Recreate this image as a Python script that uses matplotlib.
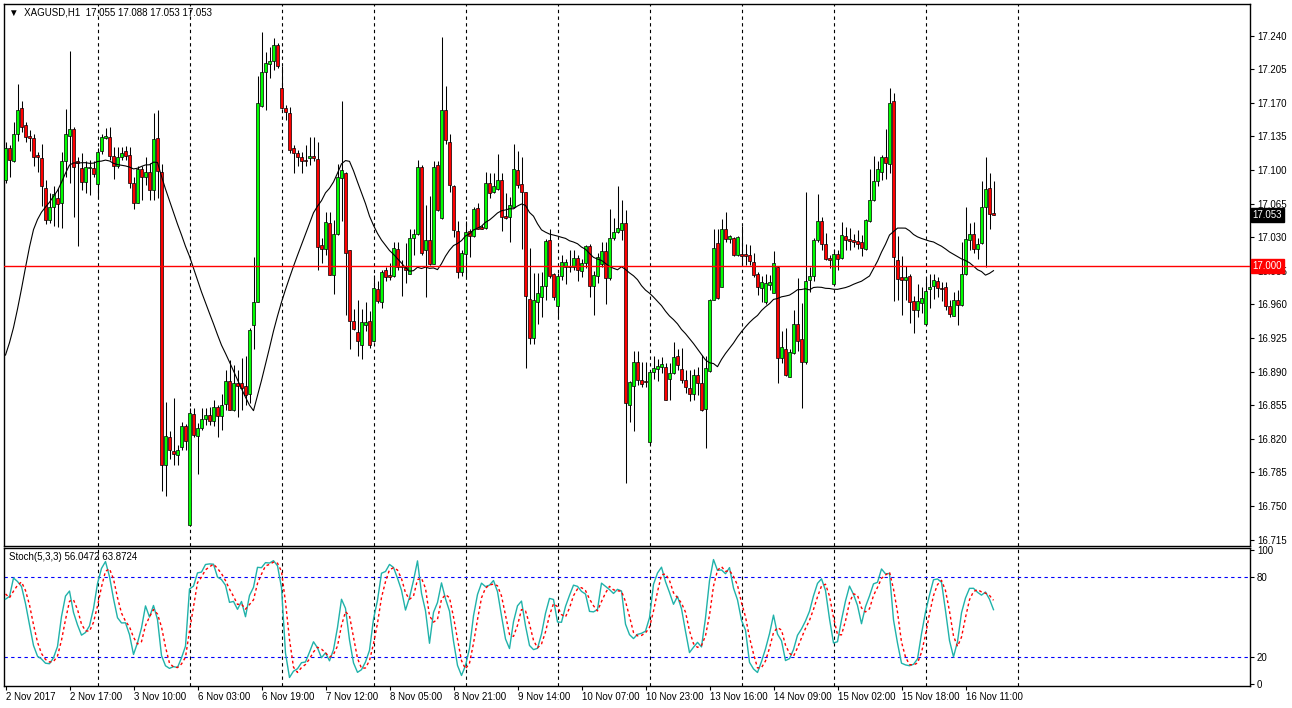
import numpy as np
import pandas as pd
import matplotlib
matplotlib.use("Agg")
import matplotlib.pyplot as plt
import matplotlib.transforms as mtransforms

plt.rcParams['font.family'] = ['Liberation Sans', 'DejaVu Sans']

# XAGUSD H1 bars, 2 Nov 2017 00:00 onwards
opens = [17.090, 17.123, 17.109, 17.137, 17.165, 17.147, 17.135, 17.133, 17.116, 17.112,
         17.081, 17.048, 17.061, 17.071, 17.066, 17.109, 17.135, 17.143, 17.109, 17.102,
         17.087, 17.102, 17.102, 17.085, 17.120, 17.133, 17.134, 17.115, 17.104, 17.114,
         17.120, 17.116, 17.086, 17.066, 17.101, 17.093, 17.098, 17.079, 17.133, 17.098,
         16.793, 16.822, 16.807, 16.803, 16.811, 16.833, 16.730, 16.846, 16.823, 16.831,
         16.841, 16.845, 16.839, 16.853, 16.844, 16.856, 16.880, 16.850, 16.878, 16.878,
         16.875, 16.867, 16.938, 16.962, 17.167, 17.202, 17.210, 17.214, 17.230, 17.185,
         17.165, 17.159, 17.123, 17.118, 17.114, 17.110, 17.112, 17.115, 17.111, 17.022,
         17.018, 17.045, 16.991, 17.033, 17.092, 17.097, 17.017, 16.943, 16.931, 16.918,
         16.938, 16.943, 16.922, 16.976, 16.962, 16.996, 16.991, 16.990, 17.018, 17.000,
         16.999, 16.992, 17.029, 17.033, 17.103, 17.017, 17.027, 17.002, 17.105, 17.050,
         17.162, 17.129, 17.083, 17.036, 16.994, 17.012, 17.036, 17.031, 17.060, 17.041,
         17.040, 17.086, 17.077, 17.080, 17.090, 17.052, 17.051, 17.061, 17.100, 17.085,
         17.077, 16.966, 16.925, 16.962, 16.968, 16.979, 17.027, 16.992, 16.958, 16.990,
         16.999, 17.000, 16.999, 17.008, 16.995, 17.003, 17.021, 16.979, 16.990, 17.002,
         17.016, 16.987, 17.029, 17.035, 17.037, 17.045, 16.855, 16.875, 16.900, 16.881,
         16.880, 16.817, 16.890, 16.893, 16.895, 16.895, 16.882, 16.888, 16.906, 16.893,
         16.881, 16.873, 16.867, 16.886, 16.878, 16.851, 16.891, 16.965, 17.024, 16.978,
         17.038, 17.028, 17.029, 17.011, 17.012, 17.012, 17.011, 17.004, 16.992, 16.977,
         16.962, 16.980, 16.972, 16.999, 16.904, 16.914, 16.884, 16.909, 16.940, 16.924,
         16.900, 16.985, 16.990, 17.027, 17.047, 17.023, 17.008, 16.981, 17.012, 17.008,
         17.031, 17.028, 17.027, 17.026, 17.025, 17.018, 17.047, 17.069, 17.089, 17.098,
         17.113, 17.106, 17.172, 17.006, 16.988, 16.985, 16.990, 16.964, 16.954, 16.961,
         16.940, 16.976, 16.979, 16.984, 16.977, 16.978, 16.958, 16.948, 16.965, 16.959,
         16.992, 17.027, 17.033, 17.018, 17.024, 17.061, 17.081, 17.055]
highs = [17.129, 17.126, 17.150, 17.190, 17.172, 17.150, 17.142, 17.138, 17.119, 17.127,
         17.090, 17.076, 17.083, 17.081, 17.119, 17.164, 17.224, 17.145, 17.114, 17.118,
         17.109, 17.110, 17.109, 17.123, 17.137, 17.144, 17.145, 17.124, 17.124, 17.124,
         17.125, 17.124, 17.093, 17.104, 17.104, 17.114, 17.107, 17.159, 17.162, 17.106,
         16.858, 16.828, 16.862, 16.814, 16.837, 16.835, 16.852, 16.852, 16.836, 16.852,
         16.852, 16.853, 16.860, 16.855, 16.867, 16.892, 16.902, 16.897, 16.892, 16.904,
         16.906, 16.935, 17.009, 17.198, 17.244, 17.223, 17.228, 17.237, 17.232, 17.208,
         17.168, 17.166, 17.126, 17.121, 17.119, 17.126, 17.134, 17.134, 17.129, 17.029,
         17.056, 17.056, 17.048, 17.106, 17.172, 17.098, 17.017, 16.955, 16.965, 16.955,
         16.962, 16.953, 16.991, 16.984, 16.996, 16.999, 17.003, 17.025, 17.025, 17.006,
         17.024, 17.038, 17.039, 17.110, 17.105, 17.064, 17.073, 17.109, 17.109, 17.239,
         17.188, 17.138, 17.084, 17.047, 17.017, 17.047, 17.038, 17.061, 17.066, 17.043,
         17.098, 17.097, 17.097, 17.117, 17.097, 17.076, 17.072, 17.127, 17.120, 17.113,
         17.077, 17.019, 16.993, 16.993, 16.994, 17.028, 17.038, 16.993, 16.993, 17.011,
         17.007, 17.017, 17.017, 17.011, 17.007, 17.022, 17.023, 16.995, 17.014, 17.025,
         17.025, 17.059, 17.050, 17.083, 17.069, 17.058, 16.880, 16.911, 16.911, 16.900,
         16.900, 16.892, 16.906, 16.903, 16.905, 16.899, 16.899, 16.921, 16.914, 16.915,
         16.892, 16.892, 16.893, 16.895, 16.907, 16.906, 16.966, 17.038, 17.039, 17.049,
         17.056, 17.032, 17.030, 17.031, 17.042, 17.023, 17.022, 17.013, 16.994, 16.990,
         16.992, 16.991, 17.016, 17.000, 16.932, 16.935, 16.914, 16.954, 16.987, 16.961,
         17.077, 16.999, 17.029, 17.075, 17.051, 17.034, 17.011, 17.018, 17.017, 17.046,
         17.041, 17.040, 17.033, 17.037, 17.032, 17.049, 17.101, 17.115, 17.109, 17.116,
         17.143, 17.185, 17.180, 17.031, 17.010, 17.000, 16.992, 16.969, 16.981, 16.978,
         16.987, 16.992, 16.992, 16.988, 16.983, 16.983, 16.965, 16.973, 16.975, 17.025,
         17.061, 17.045, 17.046, 17.029, 17.088, 17.113, 17.097, 17.088]
lows = [17.086, 17.093, 17.108, 17.130, 17.140, 17.129, 17.120, 17.104, 17.098, 17.062,
        17.044, 17.045, 17.042, 17.041, 17.040, 17.093, 17.086, 17.051, 17.021, 17.079,
        17.076, 17.074, 17.093, 17.071, 17.117, 17.132, 17.110, 17.091, 17.102, 17.110,
        17.110, 17.081, 17.059, 17.066, 17.069, 17.084, 17.069, 17.069, 17.071, 16.766,
        16.760, 16.799, 16.793, 16.793, 16.808, 16.808, 16.729, 16.822, 16.783, 16.829,
        16.834, 16.834, 16.833, 16.822, 16.829, 16.850, 16.850, 16.849, 16.843, 16.850,
        16.855, 16.857, 16.913, 16.962, 17.166, 17.163, 17.196, 17.204, 17.206, 17.164,
        17.152, 17.118, 17.097, 17.104, 17.097, 17.104, 17.105, 17.109, 16.996, 17.003,
        17.011, 16.991, 16.971, 17.032, 17.047, 16.949, 16.913, 16.933, 16.906, 16.903,
        16.932, 16.915, 16.921, 16.961, 16.956, 16.984, 16.985, 16.989, 16.996, 16.969,
        16.982, 16.992, 17.011, 17.032, 17.011, 16.968, 17.001, 17.002, 17.057, 17.049,
        17.127, 17.077, 17.030, 16.987, 16.990, 16.989, 17.009, 17.030, 17.038, 17.038,
        17.039, 17.071, 17.076, 17.079, 17.036, 17.049, 17.025, 17.060, 17.081, 17.018,
        16.894, 16.919, 16.919, 16.940, 16.947, 16.965, 16.987, 16.965, 16.946, 16.985,
        16.981, 16.994, 16.996, 16.984, 16.989, 16.998, 16.968, 16.949, 16.982, 16.999,
        16.960, 16.985, 17.027, 17.034, 17.027, 16.774, 16.837, 16.828, 16.876, 16.874,
        16.874, 16.815, 16.882, 16.880, 16.889, 16.860, 16.860, 16.887, 16.892, 16.878,
        16.868, 16.859, 16.860, 16.866, 16.849, 16.810, 16.890, 16.965, 16.966, 16.978,
        17.025, 17.024, 17.010, 17.010, 17.001, 17.001, 17.001, 16.989, 16.970, 16.962,
        16.960, 16.975, 16.972, 16.878, 16.899, 16.885, 16.884, 16.908, 16.911, 16.852,
        16.898, 16.973, 16.984, 17.025, 17.017, 17.006, 16.998, 16.980, 16.996, 17.007,
        17.017, 17.017, 17.020, 17.018, 17.010, 17.017, 17.046, 17.068, 17.083, 17.090,
        17.091, 17.097, 16.963, 16.965, 16.949, 16.965, 16.941, 16.930, 16.947, 16.951,
        16.939, 16.956, 16.966, 16.968, 16.963, 16.954, 16.947, 16.948, 16.939, 16.958,
        16.991, 17.017, 17.013, 17.007, 17.023, 16.999, 17.038, 17.053]
closes = [17.123, 17.110, 17.137, 17.163, 17.145, 17.134, 17.133, 17.114, 17.113, 17.083,
          17.048, 17.061, 17.075, 17.065, 17.109, 17.137, 17.143, 17.103, 17.107, 17.087,
          17.103, 17.103, 17.096, 17.119, 17.134, 17.135, 17.115, 17.104, 17.114, 17.118,
          17.115, 17.086, 17.066, 17.101, 17.093, 17.098, 17.079, 17.132, 17.099, 16.793,
          16.823, 16.808, 16.804, 16.808, 16.833, 16.818, 16.847, 16.824, 16.831, 16.841,
          16.845, 16.839, 16.853, 16.844, 16.855, 16.880, 16.850, 16.878, 16.875, 16.873,
          16.866, 16.933, 16.962, 17.170, 17.202, 17.211, 17.214, 17.230, 17.208, 17.165,
          17.160, 17.121, 17.118, 17.114, 17.109, 17.109, 17.115, 17.112, 17.020, 17.018,
          17.046, 16.991, 17.033, 17.093, 17.100, 17.014, 16.943, 16.934, 16.922, 16.942,
          16.942, 16.918, 16.977, 16.963, 16.994, 16.989, 16.989, 17.019, 16.999, 16.999,
          16.996, 17.029, 17.033, 17.103, 17.014, 17.027, 17.002, 17.103, 17.058, 17.162,
          17.131, 17.084, 17.037, 16.994, 17.014, 17.035, 17.031, 17.059, 17.039, 17.039,
          17.086, 17.076, 17.083, 17.090, 17.051, 17.050, 17.063, 17.101, 17.084, 17.077,
          16.969, 16.925, 16.965, 16.972, 16.979, 17.026, 16.990, 16.968, 16.990, 17.004,
          17.004, 16.999, 17.008, 16.996, 17.003, 17.021, 16.979, 16.991, 17.009, 17.016,
          16.987, 17.029, 17.035, 17.040, 17.045, 16.857, 16.879, 16.900, 16.881, 16.877,
          16.879, 16.890, 16.894, 16.896, 16.898, 16.860, 16.888, 16.905, 16.897, 16.881,
          16.874, 16.867, 16.886, 16.878, 16.850, 16.894, 16.965, 17.019, 16.967, 17.038,
          17.028, 17.031, 17.011, 17.030, 17.010, 17.010, 17.005, 16.991, 16.978, 16.983,
          16.982, 16.983, 17.003, 16.904, 16.916, 16.886, 16.910, 16.940, 16.922, 16.900,
          16.984, 16.990, 17.027, 17.047, 17.023, 17.007, 17.006, 17.012, 17.007, 17.032,
          17.027, 17.026, 17.025, 17.023, 17.019, 17.048, 17.069, 17.089, 17.101, 17.113,
          17.107, 17.170, 17.009, 16.986, 16.985, 16.988, 16.962, 16.954, 16.963, 16.967,
          16.974, 16.978, 16.985, 16.977, 16.976, 16.958, 16.950, 16.965, 16.959, 16.992,
          17.028, 17.033, 17.018, 17.023, 17.061, 17.080, 17.054, 17.053]
# closes of the 23 hours before the first visible bar (moving average warm-up)
pre_close = [16.80, 16.76, 16.70, 16.64, 16.60, 16.62, 16.68, 16.86, 16.90, 16.92,
             16.94, 16.93, 16.92, 16.90, 16.91, 16.94, 17.05, 17.11, 17.08, 17.10,
             17.12, 17.09, 17.08]
# a few hours before the first bar (stochastic warm-up)
pre_high = [17.10, 17.13, 17.12, 17.14]
pre_low = [17.03, 17.05, 17.06, 17.07]
pre_last = [17.08, 17.12, 17.09, 17.08]

date_labels = ["2 Nov 2017", "2 Nov 17:00", "3 Nov 10:00", "6 Nov 03:00", "6 Nov 19:00",
               "7 Nov 12:00", "8 Nov 05:00", "8 Nov 21:00", "9 Nov 14:00", "10 Nov 07:00",
               "10 Nov 23:00", "13 Nov 16:00", "14 Nov 09:00", "15 Nov 02:00",
               "15 Nov 18:00", "16 Nov 11:00"]
price_ticks = [16.715, 16.750, 16.785, 16.820, 16.855, 16.890, 16.925, 16.960, 16.995,
               17.030, 17.065, 17.100, 17.135, 17.170, 17.205, 17.240]
stoch_ticks = [0, 20, 80, 100]
level_price = 17.000
last_price = 17.053
stoch_text = "Stoch(5,3,3) 56.0472 63.8724"
title_text = "XAGUSD,H1  17.055 17.088 17.053 17.053"

o = np.array(opens)
h = np.array(highs)
l = np.array(lows)
c = np.array(closes)
x = np.arange(len(c))

# indicators: 24-period SMA and Stoch(5,3,3)
ma = pd.Series(pre_close + closes).rolling(24).mean().to_numpy()[len(pre_close):]
n_pre = len(pre_high)
hs = pd.Series(pre_high + highs)
ls = pd.Series(pre_low + lows)
cs = pd.Series(pre_last + closes)
ll = ls.rolling(5, min_periods=1).min()
hh = hs.rolling(5, min_periods=1).max()
k_main = 100 * (cs - ll).rolling(3, min_periods=1).sum() / (hh - ll).rolling(3, min_periods=1).sum()
k_sig = k_main.rolling(3, min_periods=1).mean()
k_main = k_main.to_numpy()[n_pre:]
k_sig = k_sig.to_numpy()[n_pre:]

W, H = 1292, 708
fig = plt.figure(figsize=(W / 100, H / 100), dpi=100)
fig.patch.set_facecolor("white")
ax = fig.add_axes([4 / W, 1 - 546 / H, 1246 / W, 542 / H])
ax2 = fig.add_axes([4 / W, 1 - 686 / H, 1246 / W, 138 / H])

xlim = (-0.375, 311.125)
for a in (ax, ax2):
    a.set_xlim(*xlim)
    for s in a.spines.values():
        s.set_linewidth(1.0)
        s.set_color("black")
    # day separators
    for k in range(1, 12):
        a.axvline(23 * k, color="black", lw=0.8, ls=(0, (3, 3)), zorder=1)

ax.set_ylim(16.7083, 17.2729)
ax2.set_ylim(-1.7, 101.8)

# candles
up = c >= o
ax.vlines(x, l, h, color="black", lw=0.75, zorder=2)
body_lo = np.minimum(o, c)
body_h = np.maximum(np.abs(c - o), 0.0006)
ax.bar(x[up], body_h[up], 0.7, bottom=body_lo[up], color="#00ff00",
       edgecolor="black", linewidth=0.5, zorder=3)
ax.bar(x[~up], body_h[~up], 0.7, bottom=body_lo[~up], color="#ff0000",
       edgecolor="black", linewidth=0.5, zorder=3)

ax.plot(x, ma, color="black", lw=0.8, zorder=4)
ax.axhline(level_price, color="#ff0000", lw=1.0, zorder=5)

ax.yaxis.tick_right()
ax.set_yticks(price_ticks)
ax.set_yticklabels([f"{v:.3f}" for v in price_ticks])
ax.tick_params(axis="y", direction="out", length=3, width=0.8, labelsize=7, pad=2)
ax.set_xticks([])

trans = mtransforms.blended_transform_factory(ax.transAxes, ax.transData)
ax.text(1.002, level_price, f"{level_price:.3f}", transform=trans, color="white",
        fontsize=7, va="center", ha="left", zorder=6,
        bbox=dict(boxstyle="square,pad=0.2", fc="#ff0000", ec="#ff0000"))
ax.text(1.002, last_price, f"{last_price:.3f}", transform=trans, color="white",
        fontsize=7, va="center", ha="left", zorder=6,
        bbox=dict(boxstyle="square,pad=0.2", fc="black", ec="black"))

ax.text(0.004, 0.993, "\u25bc  " + title_text, transform=ax.transAxes, fontsize=7,
        va="top", ha="left")

# stochastic
ax2.axhline(80, color="#0000ff", lw=0.8, ls=(0, (3, 3)))
ax2.axhline(20, color="#0000ff", lw=0.8, ls=(0, (3, 3)))
ax2.plot(x, k_main, color="#20b2aa", lw=1.0, zorder=3)
ax2.plot(x, k_sig, color="#ff0000", lw=1.0, ls=(0, (2, 2)), zorder=3)
ax2.yaxis.tick_right()
ax2.set_yticks(stoch_ticks)
ax2.set_yticklabels([str(v) for v in stoch_ticks])
ax2.tick_params(axis="y", direction="out", length=3, width=0.8, labelsize=7, pad=2)
ax2.text(0.004, 0.97, stoch_text, transform=ax2.transAxes, fontsize=7,
         va="top", ha="left")

ax2.set_xticks(np.arange(len(date_labels)) * 16)
ax2.set_xticklabels(date_labels)
ax2.tick_params(axis="x", direction="out", length=3, width=0.8, labelsize=7, pad=1)
for t in ax2.get_xticklabels():
    t.set_horizontalalignment("left")

fig.savefig("out.png", dpi=100, facecolor="white")
